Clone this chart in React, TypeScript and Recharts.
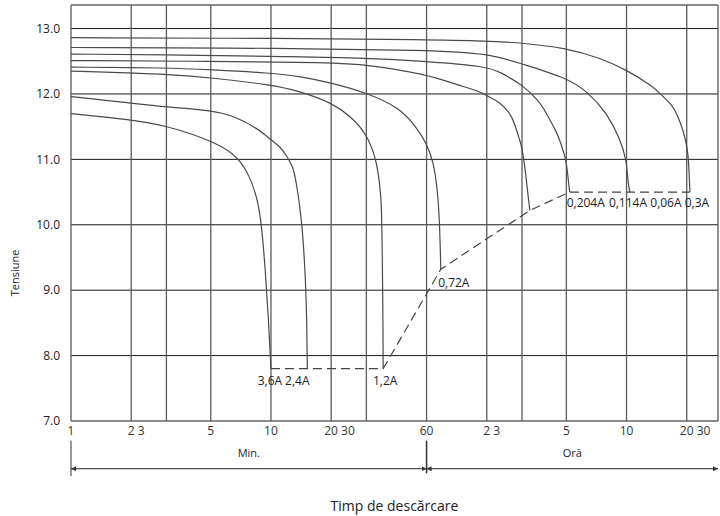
import React from "react";
import { LineChart, Line, XAxis, YAxis, ReferenceLine, ReferenceDot } from "recharts";

// timp de descărcare (minute) -> tensiune (V)
const C_3_6A = [[1, 11.7], [2, 11.61], [3, 11.51], [4, 11.39], [5, 11.28], [6.5, 11.1], [7.6, 10.84], [8.6, 10.4], [9, 9.95], [9.35, 9.35], [9.7, 8.6], [10, 7.8]];
const C_2_4A = [[1, 11.96], [2, 11.86], [3, 11.8], [5, 11.75], [6.5, 11.67], [8.8, 11.45], [9.5, 11.35], [11.1, 11.2], [12, 11.05], [12.9, 10.89], [13.4, 10.64], [14.2, 10.13], [14.8, 9.36], [15.1, 8.6], [15.2, 7.8]];
const C_1_2A = [[1, 12.35], [2, 12.32], [3, 12.3], [5, 12.25], [10, 12.14], [14, 12.04], [20, 11.87], [25, 11.66], [30, 11.4], [33.7, 11.0], [35, 10.6], [35.7, 10.38], [36.1, 9.36], [36.3, 8.6], [36.4, 7.8]];
const C_0_72A = [[1, 12.41], [3, 12.4], [5, 12.37], [10, 12.32], [14, 12.27], [20, 12.17], [30, 12.02], [44, 11.79], [53, 11.5], [60, 11.25], [65, 10.95], [67.6, 10.6], [69.6, 10.13], [70.7, 9.32]];
const C_5 = [[1, 12.51], [5, 12.5], [20, 12.48], [30, 12.45], [60, 12.3], [85, 12.14], [111, 12.04], [120, 11.97], [139, 11.88], [157, 11.7], [163, 11.6], [179, 11.22], [183, 11.05], [190, 10.65], [193, 10.45], [197, 10.22]];
const C_6 = [[1, 12.61], [5, 12.59], [12, 12.57], [30, 12.55], [60, 12.5], [120, 12.42], [139, 12.34], [183, 12.13], [221, 11.88], [239, 11.7], [268, 11.42], [279, 11.28], [301, 10.98], [307, 10.65], [312, 10.5]];
const C_7 = [[1, 12.71], [12, 12.7], [60, 12.67], [124, 12.62], [183, 12.45], [300, 12.25], [385, 12.03], [478, 11.71], [556, 11.32], [600, 11.0], [612, 10.6], [624, 10.5]];
const C_8 = [[1, 12.86], [12, 12.85], [60, 12.83], [120, 12.81], [183, 12.78], [300, 12.7], [442, 12.55], [600, 12.37], [816, 12.11], [881, 12.01], [1027, 11.81], [1068, 11.7], [1152, 11.45], [1198, 11.22], [1221, 11.05], [1233, 10.8], [1245, 10.5]];
const CUTOFF = [[10, 7.8], [36.4, 7.8], [70.7, 9.32], [197, 10.22], [312, 10.5], [1245, 10.5]];

const CURVES = [C_3_6A, C_2_4A, C_1_2A, C_0_72A, C_5, C_6, C_7, C_8];

const END_LABELS = [
  { t: 10, v: 7.8, text: "3,6A" },
  { t: 15.2, v: 7.8, text: "2,4A" },
  { t: 36.4, v: 7.8, text: "1,2A" },
  { t: 70.7, v: 9.32, text: "0,72A" },
  { t: 312, v: 10.5, text: "0,204A" },
  { t: 624, v: 10.5, text: "0,114A" },
  { t: 1245, v: 10.5, text: "0,06A" },
  { t: 1245, v: 10.5, text: "0,3A" },
];

const X_MAX = 1720;
const Y_MIN = 7;
const Y_MAX = 13.36;
const X_TICKS = [1, 2, 5, 10, 20, 60, 120, 300, 600, 1200];
const X_TICK_LABELS = ["1", "2 3", "5", "10", "20 30", "60", "2 3", "5", "10", "20 30"];
const X_GRID = [1, 2, 3, 5, 10, 20, 30, 60, 120, 180, 300, 600, 1200, X_MAX];
const Y_TICKS = [7, 8, 9, 10, 11, 12, 13];

const toPts = (arr: number[][]) => arr.map(([t, v]) => ({ t, v }));

const FONT = "'Open Sans', 'Noto Sans', sans-serif";

// offset of each label from its curve end (text centre dx, baseline dy)
const labelOffset: Record<string, [number, number]> = {
  "3,6A": [-1, 16],
  "2,4A": [-10, 16],
  "1,2A": [2, 16],
  "0,72A": [13, 17.5],
  "0,204A": [16, 14.5],
  "0,114A": [-2, 14.5],
  "0,06A": [-24, 14.5],
  "0,3A": [7, 14.5],
};

function XTick(props: any) {
  const { x, y, payload } = props;
  const idx = X_TICKS.indexOf(payload.value);
  const label = X_TICK_LABELS[idx] ?? String(payload.value);
  const parts = label.split(" ");
  const firstW = parts[0].length * 6.9;
  const multi = parts.length > 1;
  return (
    <text
      x={multi ? x - firstW / 2 : x}
      y={y}
      dy={14}
      textAnchor={multi ? "start" : "middle"}
      fontSize={12}
      fill="#333"
      fontFamily={FONT}
    >
      {label}
    </text>
  );
}

export default function App() {
  return (
    <div style={{ position: "absolute", left: 0, top: 0, background: "#fff" }}>
      <LineChart width={720} height={516} margin={{ top: 5, right: 2, bottom: 0, left: 0 }}>
        <defs>
          <marker id="arr" viewBox="0 0 6 6" refX="6" refY="3" markerWidth="5" markerHeight="5" orient="auto-start-reverse">
            <path d="M0,0 L6,3 L0,6 z" fill="#333" />
          </marker>
        </defs>
        <XAxis
          dataKey="t"
          type="number"
          scale="log"
          domain={[1, X_MAX]}
          allowDataOverflow
          ticks={X_TICKS}
          tick={<XTick />}
          tickLine={false}
          axisLine={false}
          tickSize={0}
          tickMargin={0}
          height={95}
          label={{ value: "Timp de descărcare", position: "insideBottom", offset: 5, fontSize: 14, fill: "#222", fontFamily: FONT }}
        />
        <YAxis
          type="number"
          domain={[Y_MIN, Y_MAX]}
          allowDataOverflow
          ticks={Y_TICKS}
          tickFormatter={(v) => v.toFixed(1)}
          tick={{ fontSize: 12, fill: "#222", fontFamily: FONT }}
          tickLine={false}
          axisLine={false}
          tickSize={0}
          tickMargin={11}
          width={71}
          label={{
            content: (p: any) => {
              const vb = p.viewBox;
              const cx = vb.x + 14;
              const cy = vb.y + vb.height / 2 + 60;
              return (
                <text x={cx} y={cy} transform={`rotate(-90, ${cx}, ${cy})`} textAnchor="middle" dominantBaseline="central" fontSize={11} fill="#222" fontFamily={FONT}>
                  Tensiune
                </text>
              );
            },
          }}
        />
        {Y_TICKS.map((v) => (
          <ReferenceLine key={"h" + v} y={v} stroke="#1a1a1a" strokeWidth={1} />
        ))}
        <ReferenceLine y={Y_MAX} stroke="#1a1a1a" strokeWidth={1} />
        {X_GRID.map((t) => (
          <ReferenceLine key={"v" + t} x={t} stroke="#5a5a5a" strokeWidth={1.3} />
        ))}
        {CURVES.map((c, i) => (
          <Line
            key={i}
            data={toPts(c)}
            dataKey="v"
            type="basis"
            stroke="#4a4a4a"
            strokeWidth={1.2}
            dot={false}
            activeDot={false}
            isAnimationActive={false}
          />
        ))}
        <Line
          data={toPts(CUTOFF)}
          dataKey="v"
          type="linear"
          stroke="#444"
          strokeWidth={1.2}
          strokeDasharray="9 5"
          dot={false}
          activeDot={false}
          isAnimationActive={false}
        />
        {END_LABELS.map((l) => (
          <ReferenceDot
            key={l.text}
            x={l.t}
            y={l.v}
            r={0}
            stroke="none"
            fill="none"
            label={(p: any) => {
              const vb = p.viewBox;
              const [dx, dy] = labelOffset[l.text];
              return (
                <text x={vb.x + vb.width / 2 + dx} y={vb.y + vb.height / 2 + dy} textAnchor="middle" fontSize={12} fill="#222" fontFamily={FONT}>
                  {l.text}
                </text>
              );
            }}
          />
        ))}
        {/* Min. / Oră bracket under the axis */}
        <ReferenceLine ifOverflow="visible" segment={[{ x: 1, y: 6.7 }, { x: 1, y: 6.16 }]} stroke="#333" strokeWidth={1} />
        <ReferenceLine ifOverflow="visible" segment={[{ x: 60, y: 6.7 }, { x: 60, y: 6.2 }]} stroke="#333" strokeWidth={1.5} />
        <ReferenceLine
          ifOverflow="visible"
          segment={[{ x: 1, y: 6.27 }, { x: 60, y: 6.27 }]}
          stroke="#222"
          strokeWidth={1}
          markerStart="url(#arr)"
          markerEnd="url(#arr)"
          label={{ value: "Min.", position: "top", offset: 12, fontSize: 11, fill: "#222", fontFamily: FONT }}
        />
        <ReferenceLine
          ifOverflow="visible"
          segment={[{ x: 60, y: 6.27 }, { x: X_MAX, y: 6.27 }]}
          stroke="#222"
          strokeWidth={1}
          markerStart="url(#arr)"
          markerEnd="url(#arr)"
          label={{ value: "Oră", position: "top", offset: 12, fontSize: 11, fill: "#222", fontFamily: FONT }}
        />
      </LineChart>
    </div>
  );
}
